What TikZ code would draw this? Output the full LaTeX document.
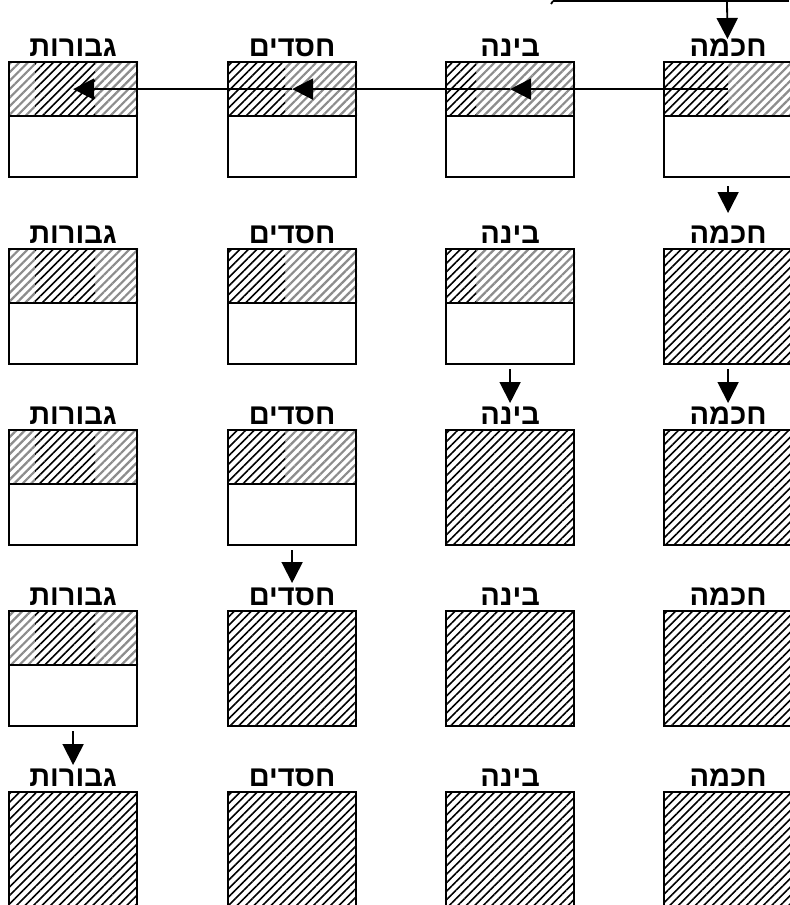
\documentclass[tikz,border=0pt]{standalone}
\usepackage{fontspec}
\newfontfamily\hebfont[Script=Hebrew]{Liberation Sans}
\TeXXeTstate=1
\usetikzlibrary{arrows.meta, positioning, patterns.meta, calc}
\newcommand{\heb}[1]{{\hebfont\bfseries\beginR #1\endR}}

\begin{document}
\begin{tikzpicture}[x=0.5pt, y=-0.5pt,
        box/.style={rectangle, draw, line width=1.1pt, minimum width=64pt, minimum height=57.5pt, inner sep=0pt, anchor=north west},
        half/.style={rectangle, draw, line width=1.1pt, minimum width=64pt, minimum height=27pt, inner sep=0pt, anchor=north},
        light/.style={pattern={Lines[angle=45, distance=3pt, line width=1.1pt]}, pattern color=black!45},
        dark/.style={pattern={Lines[angle=45, distance=3pt, line width=0.8pt]}, pattern color=black},
        lbl/.style={font=\fontsize{14.5}{16}\selectfont, inner sep=0pt},
        line/.style={draw, line width=0.9pt, -{Triangle[length=10.5pt, width=10.5pt]}}]

    \useasboundingbox (0,0) rectangle (789,905);

    % rows of sefirot, filled from the right
    \foreach \r/\ty in {1/61, 2/248, 3/429, 4/610, 5/791} {
        \foreach \k/\nm/\lx/\da/\db/\txt in {1/h/663/0/65/חכמה, 2/b/445/0/31/בינה, 3/c/227/0/58/חסדים, 4/g/8/27/87/גבורות} {
            \ifnum\k<\r
                \node[box, dark] (\nm\r) at (\lx,\ty) {};
            \else
                \node[box] (\nm\r) at (\lx,\ty) {};
                \fill[light] (\nm\r.north west) rectangle ($(\nm\r.north east)+(0,54)$);
                \fill[white] ($(\nm\r.north west)+(\da,0)$) rectangle ($(\nm\r.north west)+(\db,54)$);
                \fill[dark] ($(\nm\r.north west)+(\da,0)$) rectangle ($(\nm\r.north west)+(\db,54)$);
                \node[half] (\nm\r-t) at (\nm\r.north) {};
            \fi
            \node[lbl, above=2pt of \nm\r] {\heb{\txt}};
        }
    }

    \coordinate (in-w) at (553,1);
    \coordinate (in-e) at (789,1);
    \coordinate (in) at (727,1);
    \draw[line width=0.9pt] (in-w) -- (in-e);
    \draw[line width=0.9pt] (in-w) -- ++(-2,3);
    \path [line, shorten >=11pt] (in) -- (h1-t);

    \path [line] (h1-t.center) -- (b1-t.center);
    \path [line] (b1-t.center) -- (c1-t.center);
    \path [line] (c1-t.center) -- (g1-t.center);

    \path [line, shorten <=4pt, shorten >=17.5pt] (h1) -- (h2);
    \path [line, shorten <=2pt, shorten >=13pt] (h2) -- (h3);
    \path [line, shorten <=2pt, shorten >=13pt] (b2) -- (b3);
    \path [line, shorten <=2pt, shorten >=13.5pt] (c3) -- (c4);
    \path [line, shorten <=2pt, shorten >=13pt] (g4) -- (g5);
\end{tikzpicture}
\end{document}
